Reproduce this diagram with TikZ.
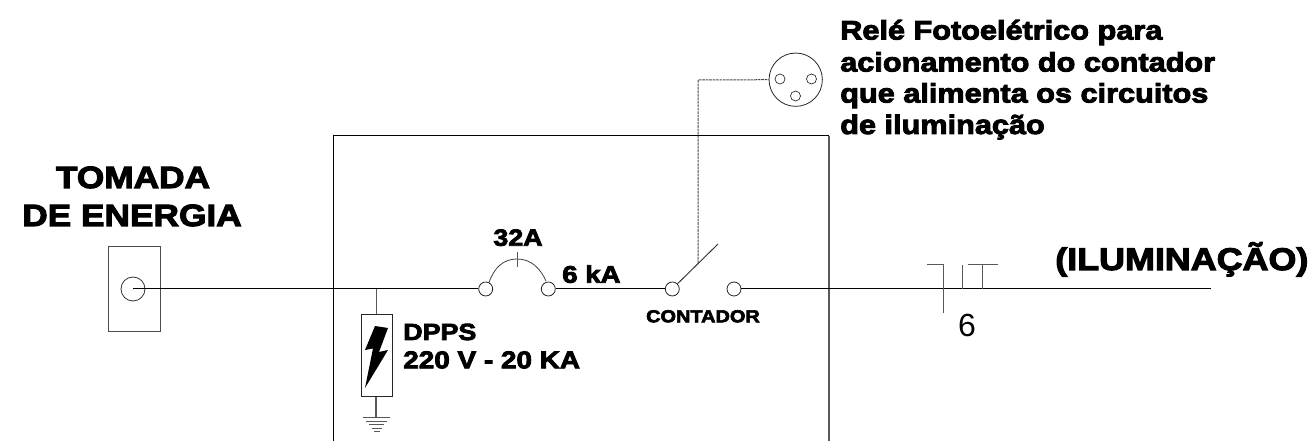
\documentclass[tikz,border=0pt]{standalone}
\usepackage{fontspec}
\setmainfont{Liberation Sans}[BoldFont={Liberation Sans Bold},BoldFeatures={FakeBold=3.5,FakeStretch=1.15}]
\newfontfamily\plainfont{Liberation Sans}
\begin{document}
\begin{tikzpicture}[x=0.75pt,y=-0.75pt,
  wire/.style={draw=black,line width=0.75pt},
  thin wire/.style={draw=black!65,line width=0.75pt},
  term/.style={circle,draw=black!85,fill=white,line width=0.6pt,minimum size=10.5pt,inner sep=0pt},
  pin/.style={circle,draw=black!85,line width=0.5pt,minimum size=7.5pt,inner sep=0pt},
  lbl/.style={inner sep=0pt,anchor=base west,text=black},
  clbl/.style={inner sep=0pt,anchor=base,text=black}]
\useasboundingbox (0,0) rectangle (1311,441);
% enclosure
\coordinate (bl) at (333,441); \coordinate (tl) at (333,136);
\coordinate (tr) at (829,136); \coordinate (br) at (829,441);
\draw[wire] (bl) -- (tl) -- (tr);
\draw[thin wire,line width=1pt] (tr) -- (br);
% socket
\node[draw=black!70,line width=1pt,minimum width=39pt,minimum height=64pt,inner sep=0pt] (socket) at (134.5,289) {};
\node[circle,draw=black!80,line width=0.6pt,minimum size=18pt,inner sep=0pt] (outlet) at (133,289) {};
% terminals
\node[term] (b1) at (485.7,289) {};
\node[term] (b2) at (548.3,289) {};
\node[term] (c1) at (672.3,289) {};
\node[term] (c2) at (734,289) {};
\coordinate (end) at (1211,289);
\coordinate (j) at (376.5,289);
\draw[wire] (outlet.center) -- (b1);
\draw[wire] (b2) -- (c1);
\draw[wire] (c2) -- (end);
% breaker
\coordinate (tickt) at (517,252); \coordinate (tickb) at (517,267);
\draw[black!75,line width=0.6pt] (b1.north east) ++(-2,-1) .. controls (494,268) and (503,259) .. (517,259) .. controls (531,259) and (540,268) .. (546,281);
\draw[thin wire,line width=0.6pt] (tickt) -- (tickb);
% DPS
\node[draw=black!85,line width=0.7pt,minimum width=23.2pt,minimum height=62.2pt,inner sep=0pt] (dps) at (377.2,355.5) {};
\draw[thin wire,line width=1pt] (j) -- (dps.north -| j);
\coordinate (gnd) at (376,417);
\draw[thin wire,line width=1pt] (dps.south -| gnd) -- (gnd);
\fill[black] (388,328) -- (375,326) -- (365,350) -- (373,348.5) -- (365,388) -- (388,350) -- (379,352) -- cycle;
\foreach \y/\w in {417.5/13.5,421/10.5,424.5/7.5,428/5,431/3}
  \draw[black!65,line width=0.7pt] (376.5-\w,\y) -- (376.5+\w,\y);
% contactor
\coordinate (bladeend) at (718,244);
\coordinate (bladestart) at (c1.north east);
\draw[black!80,line width=0.7pt] (bladestart) -- (bladeend);
\node[circle,draw=black!85,line width=0.6pt,minimum size=40pt,inner sep=0pt] (relay) at (795.7,79.7) {};
\node[pin] (p1) at (780,79) {};
\node[pin] (p2) at (811.5,79) {};
\node[pin] (p3) at (795.5,96) {};
\coordinate (dashc) at (698,263);
\draw[black!70,line width=0.75pt,dash pattern=on 2pt off 0.6pt] (dashc) -- (698,80) -- (relay.west);
% trip symbol
\coordinate (t1) at (927,265); \coordinate (t2) at (943,265); \coordinate (t3) at (943,313);
\draw[thin wire] (t1) -- (t2) -- (t3);
\coordinate (t4) at (962,265); \coordinate (t5) at (962,289);
\draw[thin wire] (t4) -- (t5);
\coordinate (t6) at (967.5,265); \coordinate (t7) at (998,265);
\coordinate (t8) at (982.5,265); \coordinate (t9) at (982.5,289);
\draw[thin wire] (t6) -- (t7); \draw[thin wire] (t8) -- (t9);
\node[inner sep=0pt,font=\plainfont\fontsize{24pt}{25pt}\selectfont] (six) at (967,325) {6};
% texts
\node[clbl,font=\bfseries\fontsize{23pt}{24pt}\selectfont] (tom1) at (133,188) {TOMADA};
\node[clbl,font=\bfseries\fontsize{23pt}{24pt}\selectfont] (tom2) at (132,226) {DE ENERGIA};
\node[clbl,font=\bfseries\fontsize{17.5pt}{18pt}\selectfont] (a32) at (518,245.7) {32A};
\node[lbl,font=\bfseries\fontsize{18pt}{19pt}\selectfont] (ka) at (562,282.7) {6 kA};
\node[lbl,font=\bfseries\fontsize{17.5pt}{18pt}\selectfont] (dp1) at (403,340) {DPPS};
\node[lbl,font=\bfseries\fontsize{18.2pt}{19pt}\selectfont] (dp2) at (403,368.3) {220 V - 20 KA};
\node[clbl,font=\bfseries\fontsize{13pt}{14pt}\selectfont] (cont) at (703,322.3) {CONTADOR};
\node[lbl,font=\bfseries\fontsize{23.4pt}{24pt}\selectfont] (ilu) at (1055,270) {(ILUMINAÇÃO)};
\node[lbl,font=\bfseries\fontsize{20pt}{21pt}\selectfont] (r1) at (840,39.5) {Relé Fotoelétrico para};
\node[lbl,font=\bfseries\fontsize{20pt}{21pt}\selectfont] (r2) at (840,71.5) {acionamento do contador};
\node[lbl,font=\bfseries\fontsize{20pt}{21pt}\selectfont] (r3) at (840,102.5) {que alimenta os circuitos};
\node[lbl,font=\bfseries\fontsize{20pt}{21pt}\selectfont] (r4) at (840,134) {de iluminação};
\end{tikzpicture}
\end{document}
